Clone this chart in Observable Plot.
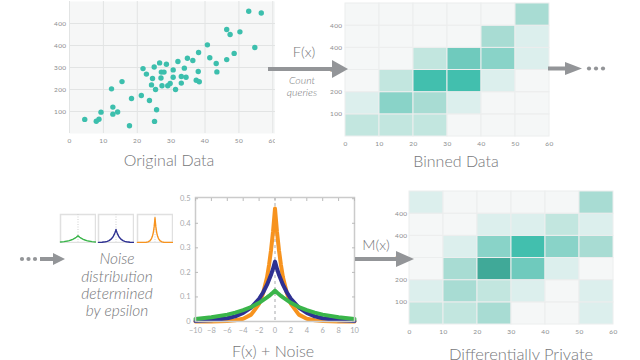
<!DOCTYPE html>
<html>
<head>
<meta charset="utf-8">
<script src="https://cdn.jsdelivr.net/npm/d3@7"></script>
<script src="https://cdn.jsdelivr.net/npm/@observablehq/plot@0.6"></script>
<style>
  html, body { margin: 0; padding: 0; background: #fff; }
  body { width: 640px; height: 360px; position: relative; overflow: hidden; font-family: Lato, "Open Sans", sans-serif; }
  .panel { position: absolute; }
  #overlay { position: absolute; left: 0; top: 0; width: 640px; height: 360px; pointer-events: none; }
  #overlay text { font-family: Lato, sans-serif; fill: #76777a; }
</style>
</head>
<body>
<div id="p1" class="panel" style="left:0;top:0"></div>
<div id="p2" class="panel" style="left:300px;top:0"></div>
<div id="p3" class="panel" style="left:360px;top:180px"></div>
<div id="p4" class="panel" style="left:170px;top:185px"></div>
<div id="i1" class="panel" style="left:59px;top:213px"></div>
<div id="i2" class="panel" style="left:97px;top:213px"></div>
<div id="i3" class="panel" style="left:136px;top:213px"></div>
<svg id="overlay" width="640" height="360"></svg>
<script>
// ---------- data ----------
const xTicks = [0, 10, 20, 30, 40, 50, 60];
const yTicks = [100, 200, 300, 400, 500];
const yTickLabels = ["100", "200", "300", "400", "400"];
const xEdges = [0, 10, 20, 30, 40, 50, 60];
const yEdges = [0, 100, 200, 300, 400, 500, 600];

// Original data points
const pointX = [4.5, 7.9, 8.7, 9.3, 12.4, 12.8, 12.8, 14.2, 15.5, 17.7, 18.3, 21.2, 21.7, 22.7, 23.6, 24.2, 24.5, 25.0, 25.1, 25.4, 25.7, 26.6, 27.0, 27.1, 27.3, 27.9, 28.6, 29.0, 29.7, 30.6, 30.6, 31.3, 32.0, 33.0, 33.0, 33.9, 34.4, 34.8, 36.4, 37.4, 38.0, 38.1, 38.3, 40.7, 41.4, 43.3, 43.5, 46.4, 46.4, 47.4, 48.6, 50.3, 52.9, 54.7, 56.6];
const pointY = [64, 56, 65, 97, 203, 120, 88, 98, 236, 35, 159, 173, 295, 270, 150, 221, 250, 302, 55, 200, 108, 321, 252, 279, 217, 279, 315, 217, 227, 289, 256, 200, 327, 229, 259, 297, 256, 342, 332, 242, 282, 368, 235, 403, 344, 318, 280, 473, 336, 450, 364, 462, 556, 391, 548];

// Binned data intensities, rows from bottom (0-100) to top (500-600)
const binnedRows = [
  [2, 2, 2, 0, 0, 0],
  [1, 4, 3, 1, 0, 0],
  [0, 2, 6, 6, 1, 0],
  [0, 0, 2, 5, 4, 1],
  [0, 0, 0, 0, 3, 1],
  [0, 0, 0, 0, 0, 3]
];
// Differentially private intensities
const privateRows = [
  [2, 2, 3, 0, 0, 1],
  [1, 3, 2, 1, 0, 1],
  [0, 3, 7, 5, 1, 0],
  [0, 1, 4, 6, 4, 3],
  [0, 0, 1, 1, 2, 1],
  [1, 0, 0, 0, 0, 3]
];
const levelDomain = [0, 1, 2, 3, 4, 5, 6, 7];
const levelColors = ["#f5f7f7", "#dcefed", "#c2e6df", "#a8dcd3", "#89d3c8", "#6fcabd", "#42bfae", "#40a998"];

// Noise distributions
const noiseX      = [-10, -8, -6, -5, -4, -3, -2, -1.5, -1, -0.75, -0.5, -0.25, 0, 0.25, 0.5, 0.75, 1, 1.5, 2, 3, 4, 5, 6, 8, 10];
const noiseOrange = [0.0, 0.0005, 0.002, 0.005, 0.011, 0.028, 0.072, 0.115, 0.18, 0.23, 0.29, 0.365, 0.46, 0.365, 0.29, 0.23, 0.18, 0.115, 0.072, 0.028, 0.011, 0.005, 0.002, 0.0005, 0.0];
const noiseBlue   = [0.002, 0.005, 0.013, 0.021, 0.035, 0.057, 0.092, 0.118, 0.15, 0.17, 0.19, 0.215, 0.244, 0.215, 0.19, 0.17, 0.15, 0.118, 0.092, 0.057, 0.035, 0.021, 0.013, 0.005, 0.002];
const noiseGreen  = [0.010, 0.017, 0.028, 0.036, 0.046, 0.059, 0.076, 0.087, 0.098, 0.104, 0.111, 0.118, 0.126, 0.118, 0.111, 0.104, 0.098, 0.087, 0.076, 0.059, 0.046, 0.036, 0.028, 0.017, 0.010];
const noiseXTicks = [-10, -8, -6, -4, -2, 0, 2, 4, 6, 8, 10];
const noiseYTicks = [0, 0.1, 0.2, 0.3, 0.4, 0.5];
const noiseYLabels = ["0", "0.1", "0.2", "0.3", "0.4", "0.5"];
const seriesColors = {orange: "#f7931e", blue: "#2e3192", green: "#3ab54a"};

// ---------- helpers ----------
const yLabelMap = new Map(yTicks.map((t, i) => [t, yTickLabels[i]]));
const tickStyle = {fontFamily: "Lato, sans-serif", fontSize: "6.5px", color: "#8a8c8e", background: "transparent", letterSpacing: "0.4px"};

function cellsFrom(rows) {
  const out = [];
  rows.forEach((row, r) => row.forEach((v, c) => out.push({
    x1: xEdges[c], x2: xEdges[c + 1], y1: yEdges[r], y2: yEdges[r + 1], v
  })));
  return out;
}

function heatmap(rows, opts) {
  return Plot.plot({
    ...opts,
    style: tickStyle,
    x: {domain: [0, 60]},
    y: {domain: [0, 600]},
    color: {type: "linear", domain: levelDomain, range: levelColors},
    marks: [
      Plot.rect(cellsFrom(rows), {x1: "x1", x2: "x2", y1: "y1", y2: "y2", fill: "v", stroke: "#eceeee", strokeWidth: 1}),
      Plot.axisX(xTicks, {tickSize: 0, tickPadding: opts.xPad, label: null}),
      Plot.axisY(yTicks, {tickSize: 0, tickPadding: opts.yPad, tickFormat: d => yLabelMap.get(d), label: null})
    ]
  });
}

// ---------- panel 1: scatter ----------
const points = pointX.map((x, i) => ({x, y: pointY[i]}));
document.getElementById("p1").append(Plot.plot({
  width: 275, height: 150, marginLeft: 69, marginRight: 0, marginTop: 1, marginBottom: 17,
  style: tickStyle,
  x: {domain: [0, 60.8]},
  y: {domain: [0, 600]},
  marks: [
    Plot.frame({fill: "#f6f7f7"}),
    Plot.gridX(xTicks, {stroke: "#e2e4e4", strokeOpacity: 1}),
    Plot.gridY(yTicks, {stroke: "#e2e4e4", strokeOpacity: 1}),
    Plot.axisX(xTicks, {tickSize: 0, tickPadding: 5, label: null}),
    Plot.axisY(yTicks, {tickSize: 0, tickPadding: 3, tickFormat: d => yLabelMap.get(d), label: null}),
    Plot.dot(points, {x: "x", y: "y", r: 2.7, fill: "#3cbfad", stroke: null})
  ]
}));

// ---------- panel 2: binned ----------
document.getElementById("p2").append(heatmap(binnedRows, {
  width: 260, height: 150, marginLeft: 45, marginRight: 11, marginTop: 3, marginBottom: 14, xPad: 5, yPad: 3
}));

// ---------- panel 3: differentially private ----------
document.getElementById("p3").append(heatmap(privateRows, {
  width: 270, height: 160, marginLeft: 49, marginRight: 17, marginTop: 11, marginBottom: 16, xPad: 5, yPad: 2
}));

// ---------- panel 4: noise ----------
const noise = [
  ...noiseX.map((x, i) => ({x, y: noiseOrange[i], s: "orange"})),
  ...noiseX.map((x, i) => ({x, y: noiseBlue[i], s: "blue"})),
  ...noiseX.map((x, i) => ({x, y: noiseGreen[i], s: "green"}))
];
const noiseLabelMap = new Map(noiseYTicks.map((t, i) => [t, noiseYLabels[i]]));
document.getElementById("p4").append(Plot.plot({
  width: 190, height: 160, marginLeft: 25, marginRight: 6, marginTop: 12, marginBottom: 24,
  style: {fontFamily: "Lato, sans-serif", fontSize: "7.5px", color: "#a7a9ac", background: "transparent"},
  x: {domain: [-10, 10]},
  y: {domain: [0, 0.505]},
  marks: [
    Plot.ruleX([0], {stroke: "#a7a9ac", strokeDasharray: "3,3", strokeWidth: 1}),
    ...["orange", "blue", "green"].map(s => Plot.line(noise.filter(d => d.s === s), {
      x: "x", y: "y", stroke: seriesColors[s], strokeWidth: 4, curve: "linear"
    })),
    Plot.frame({stroke: "#cbcbcb", strokeWidth: 1.5}),
    Plot.axisX(noiseXTicks, {tickSize: 0, tickPadding: 6, label: null}),
    Plot.axisX(noiseXTicks, {anchor: "top", tickSize: -3, stroke: "#bbb", tickFormat: () => "", label: null}),
    Plot.axisY(noiseYTicks, {tickSize: 0, tickPadding: 5, tickFormat: d => noiseLabelMap.get(d), label: null}),
    Plot.axisY(noiseYTicks, {anchor: "left", tickSize: -3, stroke: "#bbb", tickFormat: () => "", label: null}),
    Plot.axisY(noiseYTicks, {anchor: "right", tickSize: -3, stroke: "#bbb", tickFormat: () => "", label: null})
  ]
}));

// ---------- mini noise icons ----------
[["i1", "green"], ["i2", "blue"], ["i3", "orange"]].forEach(([id, s]) => {
  document.getElementById(id).append(Plot.plot({
    width: 37, height: 30, margin: 1,
    style: {background: "transparent"},
    x: {domain: [-10, 10], axis: null},
    y: {domain: [0, 0.52], axis: null},
    marks: [
      Plot.frame({stroke: "#e0e0e0", strokeWidth: 1.5}),
      Plot.ruleX([0], {stroke: "#cfcfcf", strokeDasharray: "1,1.5", strokeWidth: 1}),
      Plot.line(noise.filter(d => d.s === s), {x: "x", y: "y", stroke: seriesColors[s], strokeWidth: 1.4})
    ]
  }));
});

// ---------- annotations: arrows & labels ----------
const arrowColor = "#939598";
const ov = d3.select("#overlay");
function arrow(x0, x1, y, headLen, headHalf, thick) {
  ov.append("rect").attr("x", x0).attr("y", y - thick / 2).attr("width", x1 - headLen - x0 + 1).attr("height", thick).attr("fill", arrowColor);
  ov.append("path").attr("d", `M${x1 - headLen},${y - headHalf}L${x1},${y}L${x1 - headLen},${y + headHalf}Z`).attr("fill", arrowColor);
}
function dots(xs, y) {
  xs.forEach(x => ov.append("circle").attr("cx", x).attr("cy", y).attr("r", 2.1).attr("fill", arrowColor));
}
arrow(268, 348, 69, 16, 9, 4);
arrow(548, 582, 68.5, 17, 6.5, 4);
dots([589, 596, 603], 68.5);
dots([22, 28.5, 35], 259);
arrow(40, 65, 259, 12, 6, 4);
arrow(355, 414, 259, 18, 8, 4);

function label(txt, x, y, size, italic) {
  ov.append("text").attr("x", x).attr("y", y).attr("text-anchor", "middle")
    .style("font-size", size + "px").style("font-weight", 300)
    .style("font-style", italic ? "italic" : "normal").text(txt);
}
label("Original Data", 169, 166, 16);
label("Binned Data", 456, 167, 16);
label("F(x) + Noise", 273, 357, 16);
label("Differentially Private", 521, 360, 16.5);
label("F(x)", 304, 57, 14.5);
label("Count", 302, 84, 10.5, true);
label("queries", 302, 96, 10.5, true);
label("M(x)", 376, 250, 14.5);
label("Noise", 117, 264, 15.5, true);
label("distribution", 117, 281.5, 15.5, true);
label("determined", 117, 299, 15.5, true);
label("by epsilon", 117, 316, 15.5, true);
</script>
</body>
</html>
